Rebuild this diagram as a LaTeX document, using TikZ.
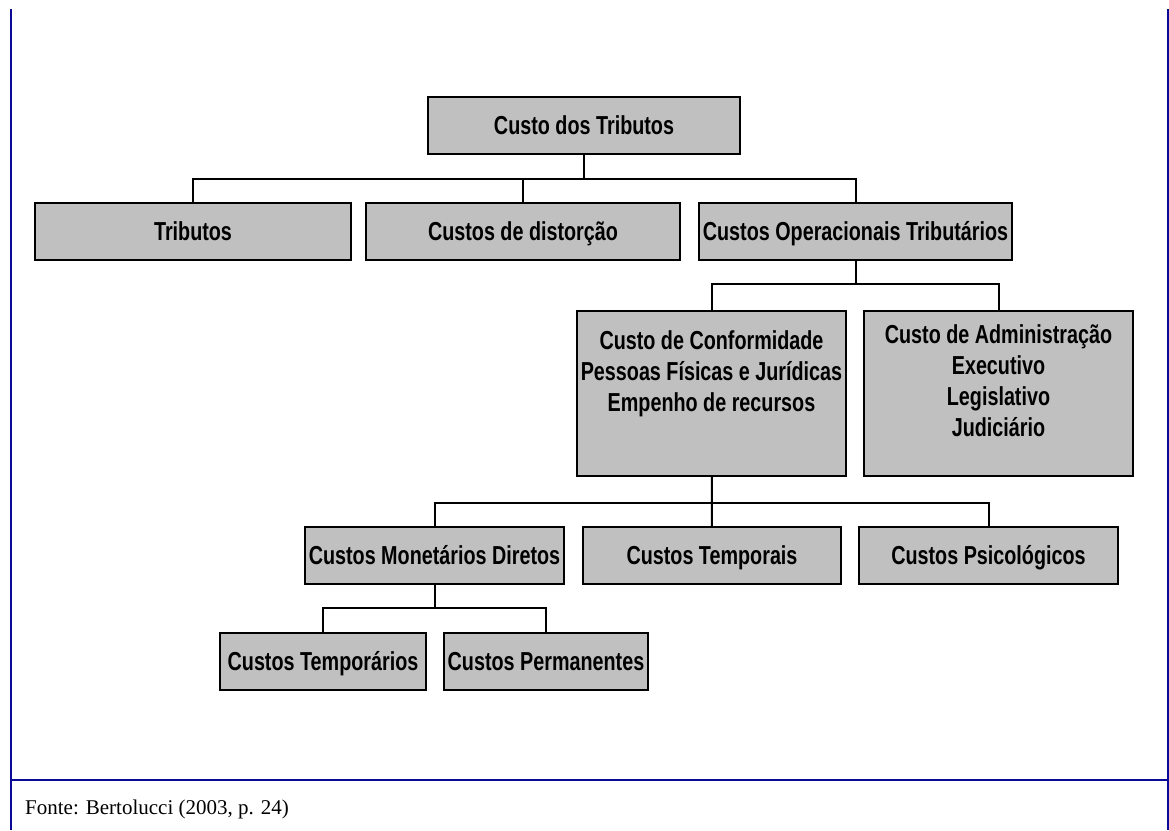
\documentclass[tikz,border=0pt]{standalone}
\usepackage{fontspec}
\setmainfont{Liberation Serif}
\newfontfamily\boxfont[FakeStretch=0.76]{Liberation Sans}
\definecolor{boxgray}{RGB}{192,192,192}
\definecolor{rulecolor}{RGB}{10,10,150}

\begin{document}
\begin{tikzpicture}[x=1pt, y=-1pt,
    box/.style={draw, line width=2pt, fill=boxgray, inner sep=0pt, minimum height=57pt,
      text height=22pt, text depth=3.4pt,
      font=\boxfont\bfseries\fontsize{26}{31}\selectfont, align=center},
    boxtext/.style={inner sep=0pt, font=\boxfont\bfseries\fontsize{26}{31}\selectfont, align=center},
    edge/.style={line width=2pt}]
      \useasboundingbox (0,0) rectangle (1169,830);

      % Frame
      \draw[rulecolor, line width=2pt] (10.5,9) -- (10.5,830);
      \draw[rulecolor, line width=2pt] (1168,9) -- (1168,830);
      \draw[rulecolor, line width=2pt] (10.5,780) -- (1168,780);
      \node[anchor=base west, inner sep=0pt, font=\fontsize{21}{25}\selectfont] (fonte) at (25,814) {Fonte: Bertolucci (2003, p. 24)};

      % Nodes
      \node[box, minimum width=312pt] (custo) at (584, 125.5) {Custo dos Tributos};
      \node[box, minimum width=316pt] (tributos) at (193, 231) {Tributos};
      \node[box, minimum width=314pt] (distorcao) at (523, 231) {Custos de distorção};
      \node[box, minimum width=313pt] (operacionais) at (855.5, 231) {Custos Operacionais Tributários};
      \node[box, minimum width=269pt, minimum height=165pt, text height=, text depth=] (conformidade) at (711.5, 393.5) {};
      \node[boxtext, anchor=north] (conftext) at ([yshift=-20pt]conformidade.north) {Custo de Conformidade\\Pessoas Físicas e Jurídicas\\Empenho de recursos};
      \node[box, minimum width=269pt, minimum height=165pt, text height=, text depth=] (administracao) at (998.5, 393.5) {};
      \node[boxtext, anchor=north] (admtext) at ([yshift=-14pt]administracao.north) {Custo de Administração\\Executivo\\Legislativo\\Judiciário};
      \node[box, minimum width=259pt] (monetarios) at (434.5, 555.5) {Custos Monetários Diretos};
      \node[box, minimum width=258pt] (temporais) at (712, 555.5) {Custos Temporais};
      \node[box, minimum width=259pt] (psicologicos) at (988.5, 555.5) {Custos Psicológicos};
      \node[box, minimum width=206pt] (temporarios) at (323, 661.5) {Custos Temporários};
      \node[box, minimum width=204pt] (permanentes) at (546, 661.5) {Custos Permanentes};

      % Joints
      \coordinate (j1) at (584, 179);
      \coordinate (j2) at (855.5, 284);
      \coordinate (j3) at (712, 503);
      \coordinate (j4) at (434.5, 608);

      % Edges
      \draw[edge] (custo) -- (j1);
      \draw[edge] (j1) -| (tributos);
      \draw[edge] (j1) -| (operacionais);
      \draw[edge] (distorcao) -- (distorcao |- j1);
      \draw[edge] (operacionais) -- (j2);
      \draw[edge] (j2) -| (conformidade);
      \draw[edge] (j2) -| (administracao);
      \draw[edge] (conformidade) -- (temporais);
      \draw[edge] (j3) -| (monetarios);
      \draw[edge] (j3) -| (psicologicos);
      \draw[edge] (monetarios) -- (j4);
      \draw[edge] (j4) -| (temporarios);
      \draw[edge] (j4) -| (permanentes);
    \end{tikzpicture}
\end{document}
